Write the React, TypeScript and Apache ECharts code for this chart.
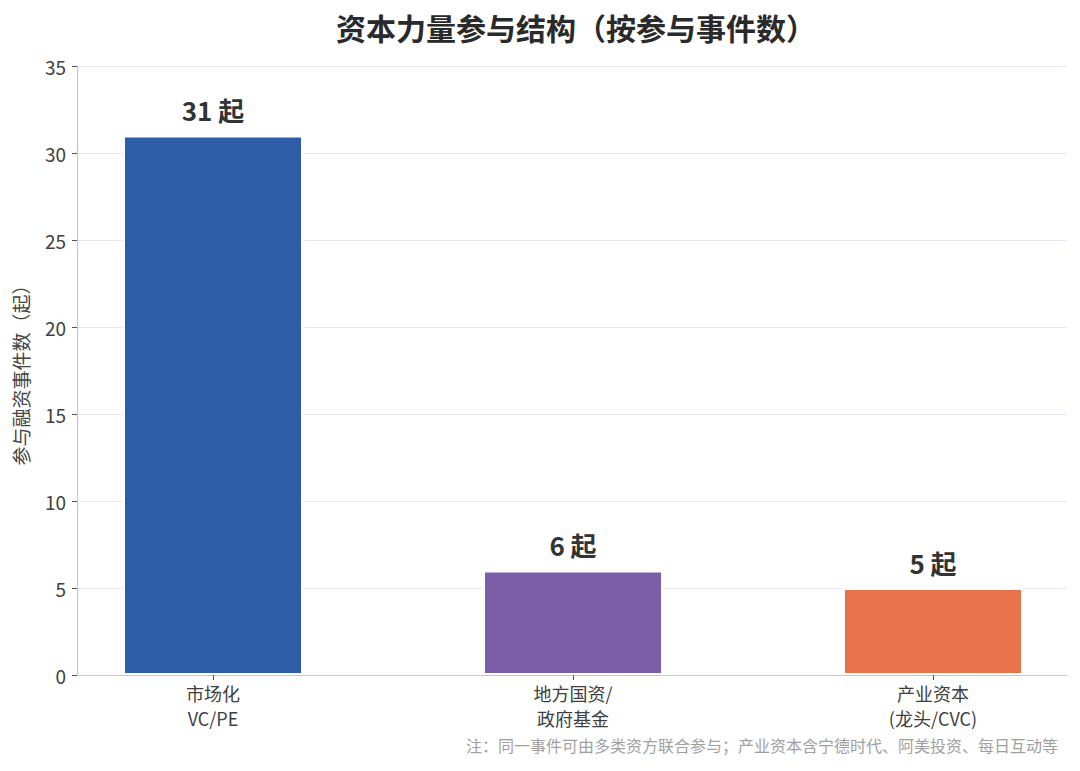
import React, { useEffect, useRef } from "react";
import * as echarts from "echarts";

const categories = ["市场化\nVC/PE", "地方国资/\n政府基金", "产业资本\n(龙头/CVC)"];
const values = [31, 6, 5];
const barColors = ["#2E5DA8", "#7B5EA7", "#E8734A"];
const yTicks = { min: 0, max: 35, interval: 5 };
const titleText = "资本力量参与结构（按参与事件数）";
const yAxisName = "参与融资事件数（起）";
const noteText = "注：同一事件可由多类资方联合参与；产业资本含宁德时代、阿美投资、每日互动等";
const unit = "起";

const FONT = "'Noto Sans CJK SC', 'Noto Sans', sans-serif";

export default function App() {
  const ref = useRef<HTMLDivElement>(null);
  useEffect(() => {
    if (!ref.current) return;
    const chart = echarts.init(ref.current, undefined, { renderer: "svg" });
    chart.setOption({
      animation: false,
      backgroundColor: "#ffffff",
      textStyle: { fontFamily: FONT },
      title: {
        text: titleText,
        left: 331,
        top: 7,
        textStyle: { fontSize: 30, fontWeight: "bold", color: "#2a2a2a", fontFamily: FONT },
      },
      graphic: [
        {
          type: "text",
          right: 22,
          top: 737,
          style: { text: noteText, fill: "#a0a0a0", fontSize: 16, fontFamily: FONT },
        },
      ],
      grid: [
        { left: 77, right: 13, top: 66, height: 609, containLabel: false, outerBoundsMode: "none" },
        { left: 33, right: -33, top: 66, height: 609, containLabel: false, outerBoundsMode: "none" },
      ],
      xAxis: [
        {
          type: "category",
          gridIndex: 0,
          data: categories,
          axisLine: { show: true, lineStyle: { color: "#c8c8c8", width: 1.2 } },
          axisTick: { show: false },
          axisLabel: { show: false },
          splitLine: { show: false },
        },
        {
          type: "category",
          gridIndex: 1,
          data: categories,
          axisLine: { show: false },
          axisTick: { show: true, alignWithLabel: true, length: 5, lineStyle: { color: "#555" } },
          axisLabel: {
            show: true,
            fontSize: 18,
            lineHeight: 25,
            color: "#404040",
            margin: 5,
            fontFamily: FONT,
          },
        },
      ],
      yAxis: [
        {
          type: "value",
          gridIndex: 0,
          min: yTicks.min,
          max: yTicks.max,
          interval: yTicks.interval,
          name: yAxisName,
          nameLocation: "middle",
          nameGap: 47,
          nameTextStyle: { fontSize: 19, color: "#444", fontFamily: FONT },
          axisLine: { show: true, lineStyle: { color: "#c8c8c8", width: 1.2 } },
          axisTick: { show: true, length: 5, lineStyle: { color: "#555" } },
          axisLabel: { fontSize: 19, color: "#404040", margin: 11, fontFamily: FONT },
          splitLine: { show: true, lineStyle: { color: "#e6e8ef", width: 1.2 } },
        },
        {
          type: "value",
          gridIndex: 1,
          min: yTicks.min,
          max: yTicks.max,
          interval: yTicks.interval,
          show: false,
          splitLine: { show: false },
        },
      ],
      series: [
        {
          type: "bar",
          xAxisIndex: 1,
          yAxisIndex: 1,
          barWidth: 180,
          data: values.map((v, i) => ({
            value: v,
            itemStyle: { color: barColors[i], borderColor: "#ffffff", borderWidth: 2 },
          })),
          label: {
            show: true,
            position: "top",
            distance: 13,
            formatter: (p: any) => `${p.value} ${unit}`,
            fontSize: 26,
            fontWeight: "bold",
            color: "#333333",
            fontFamily: FONT,
          },
        },
      ],
    });
    return () => chart.dispose();
  }, []);
  return (
    <div
      ref={ref}
      style={{ position: "absolute", left: 0, top: 0, width: 1080, height: 771 }}
    />
  );
}
